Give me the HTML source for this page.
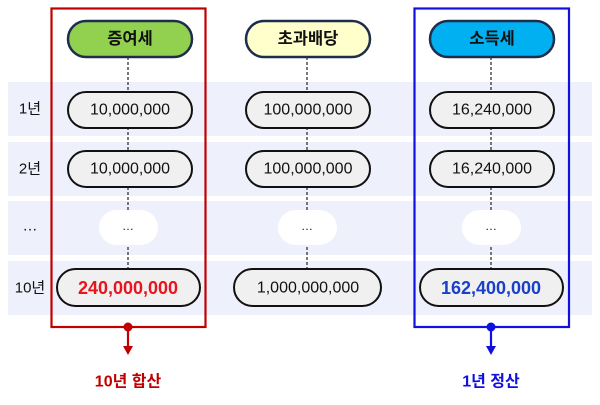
<!DOCTYPE html>
<html><head><meta charset="utf-8"><style>
html,body{margin:0;padding:0;background:#fff}
svg{display:block}
text{font-family:"Liberation Sans","Noto Sans CJK KR",sans-serif;text-anchor:middle;dominant-baseline:central}
</style></head><body>
<svg width="600" height="405" viewBox="0 0 600 405" xmlns="http://www.w3.org/2000/svg">
<g fill="#eef0fc">
<rect x="8" y="82" width="584" height="54"/>
<rect x="8" y="142" width="584" height="54"/>
<rect x="8" y="201" width="584" height="54"/>
<rect x="8" y="261" width="584" height="54"/>
</g>
<g font-size="15" fill="#111">
<text x="30" y="109">1년</text>
<text x="30" y="169">2년</text>
<text x="30" y="226">…</text>
<text x="30" y="288">10년</text>
</g>
<g stroke="#333" stroke-width="1.3" stroke-dasharray="3,2">
<line x1="128" y1="57" x2="128" y2="269"/>
<line x1="307" y1="57" x2="307" y2="269"/>
<line x1="491" y1="57" x2="491" y2="269"/>
</g>
<g stroke="#1f2d4d" stroke-width="2.5">
<rect x="68" y="21" width="124" height="36" rx="18" fill="#92d050"/>
<rect x="246" y="21" width="124" height="36" rx="18" fill="#ffffcc"/>
<rect x="430" y="21" width="124" height="36" rx="18" fill="#00b0f0"/>
</g>
<g font-size="16.5" font-weight="bold" fill="#111">
<text x="130" y="39">증여세</text>
<text x="308" y="39">초과배당</text>
<text x="492" y="39">소득세</text>
</g>
<g stroke="#111" stroke-width="2" fill="#f0f0f0">
<rect x="68" y="92" width="124" height="36" rx="18"/>
<rect x="246" y="92" width="124" height="36" rx="18"/>
<rect x="430" y="92" width="124" height="36" rx="18"/>
<rect x="68" y="151" width="124" height="36" rx="18"/>
<rect x="246" y="151" width="124" height="36" rx="18"/>
<rect x="430" y="151" width="124" height="36" rx="18"/>
<rect x="57" y="269" width="143" height="37" rx="18.5"/>
<rect x="234" y="269" width="147" height="37" rx="18.5"/>
<rect x="420" y="269" width="143" height="37" rx="18.5"/>
</g>
<g fill="#fff">
<rect x="99" y="210" width="59" height="35" rx="17.5"/>
<rect x="278" y="210" width="59" height="35" rx="17.5"/>
<rect x="462" y="210" width="59" height="35" rx="17.5"/>
</g>
<g font-size="16" fill="#111">
<text x="130" y="110">10,000,000</text>
<text x="308" y="110">100,000,000</text>
<text x="492" y="110">16,240,000</text>
<text x="130" y="169">10,000,000</text>
<text x="308" y="169">100,000,000</text>
<text x="492" y="169">16,240,000</text>
<text x="308" y="288">1,000,000,000</text>
<text x="128" y="226" font-size="12">…</text>
<text x="307" y="226" font-size="12">…</text>
<text x="491" y="226" font-size="12">…</text>
</g>
<text x="128" y="288" font-size="18" font-weight="bold" fill="#e8141e">240,000,000</text>
<text x="491" y="288" font-size="18" font-weight="bold" fill="#1a3fc8">162,400,000</text>
<rect x="51.5" y="8.5" width="154" height="318.5" fill="none" stroke="#c00000" stroke-width="2.2"/>
<rect x="414.5" y="8.5" width="154.5" height="318.5" fill="none" stroke="#1010e0" stroke-width="2.2"/>
<circle cx="128" cy="327" r="4.5" fill="#c00000"/>
<line x1="128" y1="327" x2="128" y2="348" stroke="#c00000" stroke-width="2.2"/>
<polygon points="123,346 133,346 128,355" fill="#c00000"/>
<circle cx="491" cy="327" r="4.5" fill="#1010e0"/>
<line x1="491" y1="327" x2="491" y2="348" stroke="#1010e0" stroke-width="2.2"/>
<polygon points="486,346 496,346 491,355" fill="#1010e0"/>
<text x="128" y="382" font-size="16" font-weight="bold" fill="#c00000">10년 합산</text>
<text x="491" y="382" font-size="16" font-weight="bold" fill="#1010e0">1년 정산</text>
</svg>
</body></html>
